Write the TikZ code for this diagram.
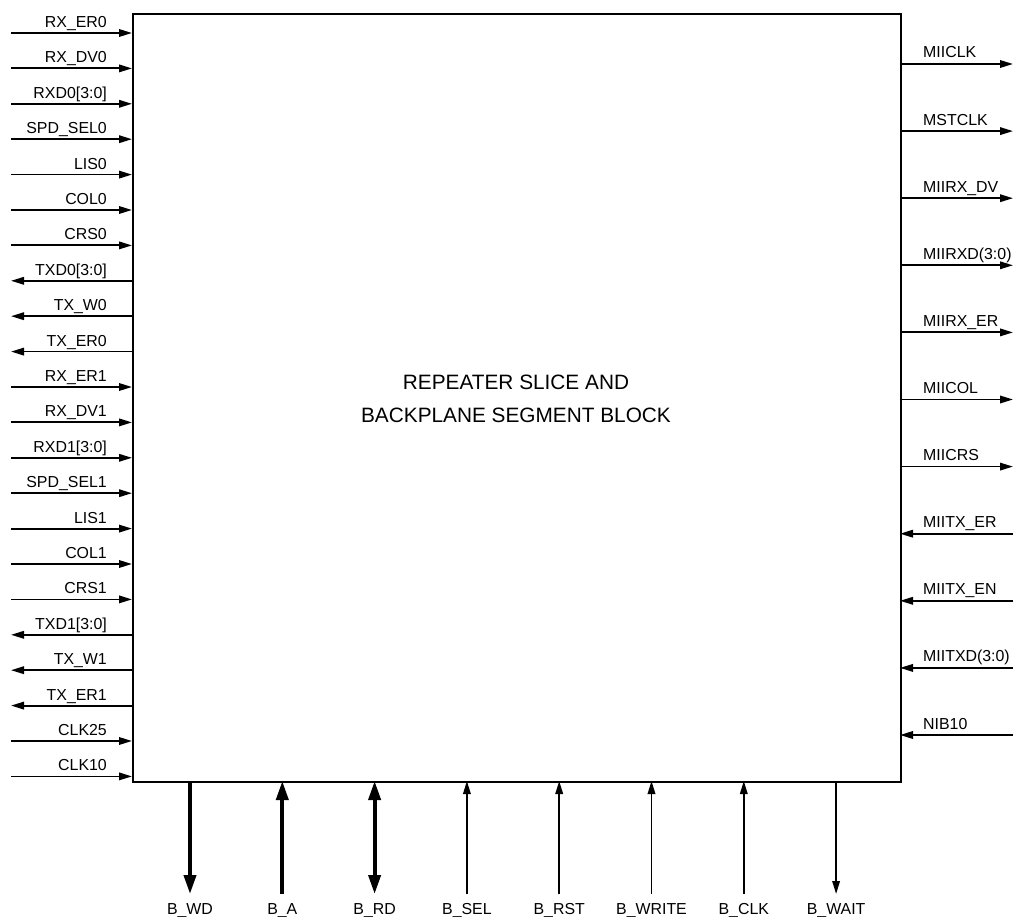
\documentclass[tikz,border=0pt]{standalone}
\usepackage{fontspec}
\setmainfont{Liberation Sans}
\usetikzlibrary{arrows.meta}
\begin{document}
\begin{tikzpicture}[x=1pt,y=-1pt,
  sig/.style={line width=1.8pt},
  bus/.style={line width=3.8pt},
  ain/.style={sig,-{Triangle[length=13pt,width=7.5pt]}},
  aout/.style={sig,{Triangle[length=13pt,width=7.5pt]}-},
  bin/.style={bus,-{Triangle[length=19pt,width=12pt]}},
  bout/.style={bus,{Triangle[length=19pt,width=12pt]}-},
  bboth/.style={bus,{Triangle[length=19pt,width=12pt]}-{Triangle[length=19pt,width=12pt]}},
  lab/.style={font=\fontsize{15.9}{18}\selectfont, inner sep=0pt},
  blkbox/.style={draw, line width=1.8pt, minimum width=768pt, minimum height=768pt, inner sep=0pt}]
\useasboundingbox (0,0) rectangle (1013,917);
\node[blkbox, anchor=north west] (blk) at (132,13) {};
\node[font=\fontsize{20.8}{33}\selectfont, align=center] (title) at (516,399)
  {REPEATER SLICE AND\\BACKPLANE SEGMENT BLOCK};
% left side
\foreach \nm/\dir [count=\i from 0] in {
  RX\_ER0/ain, RX\_DV0/ain, {RXD0[3:0]}/ain, SPD\_SEL0/ain, LIS0/ain, COL0/ain, CRS0/ain,
  {TXD0[3:0]}/aout, TX\_W0/aout, TX\_ER0/aout,
  RX\_ER1/ain, RX\_DV1/ain, {RXD1[3:0]}/ain, SPD\_SEL1/ain, LIS1/ain, COL1/ain, CRS1/ain,
  {TXD1[3:0]}/aout, TX\_W1/aout, TX\_ER1/aout, CLK25/ain, CLK10/ain}{
  \pgfmathsetmacro\yy{33+35.4*\i}
  \coordinate (Lp\i) at (132,\yy);
  \coordinate (Lf\i) at (11,\yy);
  \draw[\dir] (Lf\i) -- (Lp\i);
  \node[lab, anchor=base east] (Lt\i) at (107,\yy-5.5) {\nm};
}
% right side
\foreach \nm/\dir [count=\i from 0] in {
  MIICLK/aout, MSTCLK/aout, MIIRX\_DV/aout, MIIRXD(3:0)/aout, MIIRX\_ER/aout,
  MIICOL/aout, MIICRS/aout, MIITX\_ER/ain, MIITX\_EN/ain, MIITXD(3:0)/ain, NIB10/ain}{
  \pgfmathsetmacro\yy{64+67.1*\i}
  \coordinate (Rp\i) at (900,\yy);
  \coordinate (Rf\i) at (1013,\yy);
  \draw[\dir] (Rf\i) -- (Rp\i);
  \node[lab, anchor=base west] (Rt\i) at (923,\yy-6) {\nm};
}
% bottom side
\foreach \nm/\dir [count=\i from 0] in {
  B\_WD/bout, B\_A/bin, B\_RD/bboth, B\_SEL/ain, B\_RST/ain, B\_WRITE/ain, B\_CLK/ain, B\_WAIT/aout}{
  \pgfmathsetmacro\xx{190+92.3*\i}
  \coordinate (Bp\i) at (\xx,781);
  \coordinate (Bf\i) at (\xx,894);
  \draw[\dir] (Bf\i) -- (Bp\i);
  \node[lab, anchor=base] (Bt\i) at (\xx,914) {\nm};
}
\end{tikzpicture}
\end{document}
